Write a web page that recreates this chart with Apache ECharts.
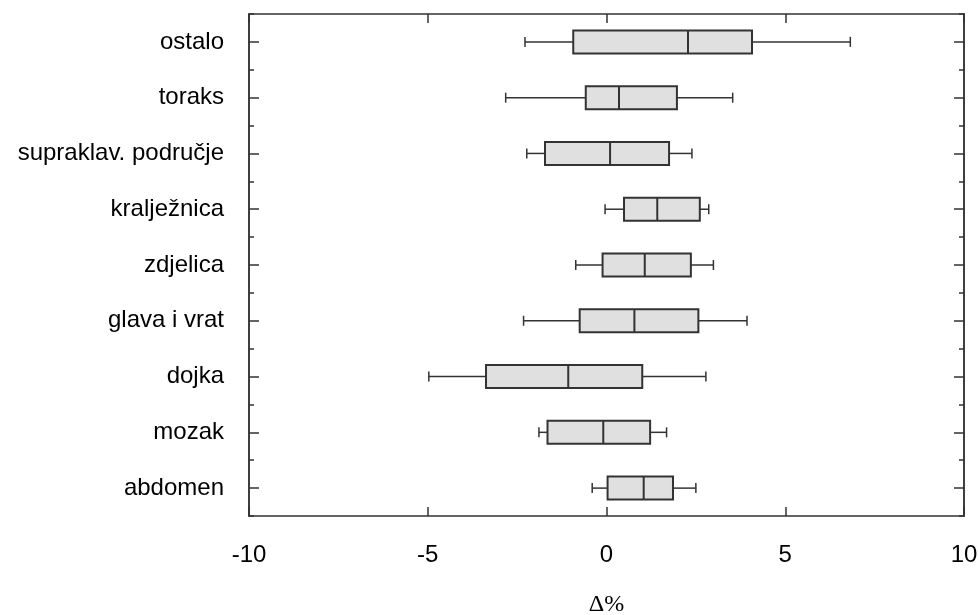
<!DOCTYPE html>
<html><head><meta charset="utf-8">
<script src="https://cdn.jsdelivr.net/npm/echarts@6/dist/echarts.min.js"></script>
<style>html,body{margin:0;padding:0;background:#fff}#c{width:979px;height:615px}</style>
</head><body><div id="c"></div>
<script>
const categories = ['abdomen','mozak','dojka','glava i vrat','zdjelica','kralježnica','supraklav. područje','toraks','ostalo'];
const whiskerLow  = [-0.40, -1.89, -4.97, -2.32, -0.86, -0.04, -2.23, -2.82, -2.28];
const q1          = [ 0.03, -1.65, -3.37, -0.75, -0.11,  0.49, -1.72, -0.58, -0.93];
const median      = [ 1.04, -0.09, -1.07,  0.78,  1.07,  1.42,  0.10,  0.35,  2.28];
const q3          = [ 1.86,  1.22,  1.00,  2.57,  2.36,  2.61,  1.75,  1.97,  4.07];
const whiskerHigh = [ 2.50,  1.68,  2.78,  3.93,  2.99,  2.86,  2.39,  3.53,  6.82];
const xMin = -10, xMax = 10, xInterval = 5;
const xName = 'Δ%';

const INK = '#333333';
const data = categories.map((c, i) => [i, whiskerLow[i], q1[i], median[i], q3[i], whiskerHigh[i]]);

function renderItem(params, api) {
  const i = api.value(0);
  const pLow = api.coord([api.value(1), i]);
  const pQ1 = api.coord([api.value(2), i]);
  const pMed = api.coord([api.value(3), i]);
  const pQ3 = api.coord([api.value(4), i]);
  const pHigh = api.coord([api.value(5), i]);
  const y = pMed[1];
  const bh = 23, ch = 10;
  const ls = { stroke: INK, lineWidth: 1.5, fill: null };
  const bs = { stroke: INK, lineWidth: 2, fill: null };
  return {
    type: 'group',
    children: [
      { type: 'line', shape: { x1: pLow[0], y1: y, x2: pQ1[0], y2: y }, style: ls },
      { type: 'line', shape: { x1: pQ3[0], y1: y, x2: pHigh[0], y2: y }, style: ls },
      { type: 'line', shape: { x1: pLow[0], y1: y - ch / 2, x2: pLow[0], y2: y + ch / 2 }, style: ls },
      { type: 'line', shape: { x1: pHigh[0], y1: y - ch / 2, x2: pHigh[0], y2: y + ch / 2 }, style: ls },
      { type: 'rect', shape: { x: pQ1[0], y: y - bh / 2, width: pQ3[0] - pQ1[0], height: bh }, style: { fill: '#e0e0e0', stroke: INK, lineWidth: 2 } },
      { type: 'line', shape: { x1: pMed[0], y1: y - bh / 2, x2: pMed[0], y2: y + bh / 2 }, style: bs }
    ]
  };
}

const axisLine = { show: true, onZero: false, lineStyle: { color: INK, width: 1.5 } };
const font = 'Liberation Sans, Arial, sans-serif';

const chart = echarts.init(document.getElementById('c'), null, { renderer: 'canvas' });
chart.setOption({
  backgroundColor: '#fff',
  animation: false,
  grid: { left: 249, right: 15, top: 14, bottom: 99, outerBoundsMode: 'none', containLabel: false },
  xAxis: [
    {
      type: 'value', min: xMin, max: xMax, interval: xInterval, position: 'bottom',
      axisLine: axisLine,
      axisTick: { show: true, inside: true, length: 9, lineStyle: { color: INK, width: 1.5 } },
      axisLabel: { fontSize: 24, color: '#000', fontFamily: font, margin: 27 },
      splitLine: { show: false },
      name: xName, nameLocation: 'middle', nameGap: 77,
      nameTextStyle: { fontSize: 24, color: '#000', fontFamily: 'Liberation Serif, Times New Roman, serif' }
    },
    {
      type: 'value', min: xMin, max: xMax, interval: xInterval, position: 'top',
      axisLine: axisLine,
      axisTick: { show: true, inside: true, length: 9, lineStyle: { color: INK, width: 1.5 } },
      axisLabel: { show: false }, splitLine: { show: false }
    }
  ],
  yAxis: [
    {
      type: 'category', data: categories, position: 'left',
      axisLine: axisLine,
      axisTick: { show: true, inside: true, alignWithLabel: true, length: 10, lineStyle: { color: INK, width: 1.5 } },
      axisLabel: { fontSize: 24, color: '#000', fontFamily: font, margin: 25, padding: [3, 0, 0, 0] },
      splitLine: { show: false }
    },
    {
      type: 'category', data: categories, position: 'left',
      axisLine: axisLine,
      axisTick: { show: true, inside: true, alignWithLabel: false, length: 5, lineStyle: { color: INK, width: 1.5 } },
      axisLabel: { show: false }, splitLine: { show: false }
    },
    {
      type: 'category', data: categories, position: 'right',
      axisLine: axisLine,
      axisTick: { show: true, inside: true, alignWithLabel: true, length: 10, lineStyle: { color: INK, width: 1.5 } },
      axisLabel: { show: false }, splitLine: { show: false }
    },
    {
      type: 'category', data: categories, position: 'right',
      axisLine: axisLine,
      axisTick: { show: true, inside: true, alignWithLabel: false, length: 5, lineStyle: { color: INK, width: 1.5 } },
      axisLabel: { show: false }, splitLine: { show: false }
    }
  ],
  series: [{
    type: 'custom',
    xAxisIndex: 0, yAxisIndex: 0,
    renderItem: renderItem,
    encode: { y: 0, x: [1, 2, 3, 4, 5] },
    data: data,
    clip: false
  }]
});
</script>
</body></html>
